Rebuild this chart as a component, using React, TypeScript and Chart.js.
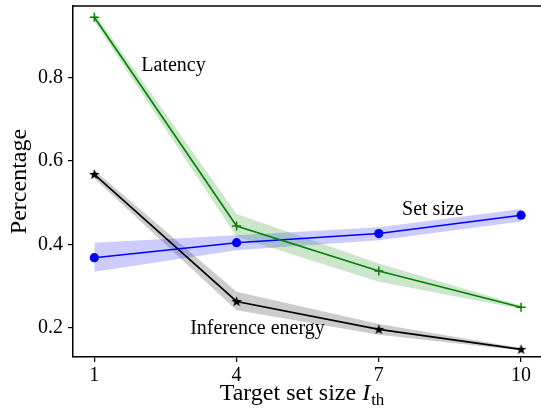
import React, { useEffect, useRef } from "react";
import { Chart, registerables } from "chart.js";

Chart.register(...registerables);

const xValues = [1, 4, 7, 10];
const yTicks = [0.2, 0.4, 0.6, 0.8];

const latency = [0.945, 0.444, 0.336, 0.249];
const latencyLow = [0.935, 0.418, 0.31, 0.245];
const latencyHigh = [0.955, 0.473, 0.354, 0.253];

const setSize = [0.368, 0.404, 0.426, 0.47];
const setSizeLow = [0.334, 0.386, 0.41, 0.455];
const setSizeHigh = [0.404, 0.422, 0.441, 0.485];

const energy = [0.568, 0.263, 0.196, 0.148];
const energyLow = [0.558, 0.242, 0.183, 0.145];
const energyHigh = [0.578, 0.286, 0.209, 0.151];

const labelTexts = ["Latency", "Set size", "Inference energy"];
const labelX = [2.67, 8.14, 4.44];
const labelY = [0.816, 0.47, 0.185];

const FONT = "'Liberation Serif', 'Times New Roman', serif";

function pts(ys: number[]) {
  return xValues.map((x, i) => ({ x, y: ys[i] }));
}

function makeStar(color: string) {
  const c = document.createElement("canvas");
  c.width = 13;
  c.height = 13;
  const ctx = c.getContext("2d")!;
  ctx.fillStyle = color;
  ctx.beginPath();
  const cx = 6.5, cy = 6.8, R = 5.6, r = 2.3;
  for (let i = 0; i < 10; i++) {
    const a = -Math.PI / 2 + (i * Math.PI) / 5;
    const rr = i % 2 === 0 ? R : r;
    const px = cx + rr * Math.cos(a);
    const py = cy + rr * Math.sin(a);
    if (i === 0) ctx.moveTo(px, py);
    else ctx.lineTo(px, py);
  }
  ctx.closePath();
  ctx.fill();
  return c;
}

function zeroPad(s: any) {
  s.paddingTop = 0;
  s.paddingBottom = 0;
  s.paddingLeft = 0;
  s.paddingRight = 0;
}

const overlayPlugin = {
  id: "overlay",
  afterDraw(chart: any) {
    const { ctx, chartArea, scales } = chart;
    ctx.save();
    // top spine
    ctx.strokeStyle = "#000";
    ctx.lineWidth = 1.5;
    ctx.beginPath();
    ctx.moveTo(chartArea.left - 0.75, chartArea.top);
    ctx.lineTo(chartArea.right, chartArea.top);
    ctx.stroke();
    // annotations
    ctx.fillStyle = "#000";
    ctx.font = `20px ${FONT}`;
    ctx.textAlign = "center";
    ctx.textBaseline = "alphabetic";
    labelTexts.forEach((t, i) => {
      ctx.fillText(t, scales.x.getPixelForValue(labelX[i]), scales.y.getPixelForValue(labelY[i]));
    });
    // x title with italic I and subscript th
    const main = "Target set size ";
    const ital = "I";
    const sub = "th";
    ctx.textAlign = "left";
    ctx.font = `24px ${FONT}`;
    const w1 = ctx.measureText(main).width;
    ctx.font = `italic 24px ${FONT}`;
    const w2 = ctx.measureText(ital).width;
    ctx.font = `17px ${FONT}`;
    const w3 = ctx.measureText(sub).width;
    const total = w1 + w2 + 1 + w3;
    const cx = 302;
    let x = cx - total / 2;
    const base = 400;
    ctx.font = `24px ${FONT}`;
    ctx.fillText(main, x, base);
    x += w1;
    ctx.font = `italic 24px ${FONT}`;
    ctx.fillText(ital, x, base);
    x += w2 + 1;
    ctx.font = `17px ${FONT}`;
    ctx.fillText(sub, x, base + 5);
    ctx.restore();
  },
};

export default function App() {
  const ref = useRef<HTMLCanvasElement | null>(null);
  useEffect(() => {
    if (!ref.current) return;
    Chart.defaults.font.family = FONT;
    Chart.defaults.color = "#000";
    const star = makeStar("#000");
    const band = (data: number[], color: string, fillTarget: number | boolean) => ({
      data: pts(data),
      borderWidth: 0,
      pointRadius: 0,
      backgroundColor: color,
      borderColor: "rgba(0,0,0,0)",
      fill: fillTarget,
      tension: 0,
    });
    const chart = new Chart(ref.current, {
      type: "line",
      data: {
        datasets: [
          {
            label: "Latency",
            data: pts(latency),
            borderColor: "#008000",
            borderWidth: 1.6,
            pointStyle: "cross",
            pointRadius: 4.5,
            pointBorderWidth: 1.5,
            pointBorderColor: "#008000",
            pointBackgroundColor: "#008000",
            fill: false,
          },
          {
            label: "Set size",
            data: pts(setSize),
            borderColor: "#0000ff",
            borderWidth: 1.6,
            pointStyle: "circle",
            pointRadius: 4.6,
            pointBorderWidth: 0,
            pointBackgroundColor: "#0000ff",
            fill: false,
          },
          {
            label: "Inference energy",
            data: pts(energy),
            borderColor: "#000000",
            borderWidth: 1.6,
            pointStyle: star as any,
            pointRadius: 6,
            fill: false,
          },
          band(latencyHigh, "rgba(0,128,0,0.2)", false),
          band(latencyLow, "rgba(0,128,0,0.2)", 3),
          band(setSizeHigh, "rgba(0,0,255,0.2)", false),
          band(setSizeLow, "rgba(0,0,255,0.2)", 5),
          band(energyHigh, "rgba(0,0,0,0.2)", false),
          band(energyLow, "rgba(0,0,0,0.2)", 7),
        ] as any,
      },
      options: {
        animation: false,
        responsive: false,
        maintainAspectRatio: false,
        layout: { autoPadding: false, padding: { top: 6, left: 0, right: 0, bottom: 0 } },
        plugins: {
          legend: { display: false },
          tooltip: { enabled: false },
        },
        scales: {
          x: {
            type: "linear",
            min: 0.55,
            max: 10.42,
            afterBuildTicks: (s: any) => {
              s.ticks = xValues.map((v) => ({ value: v }));
            },
            afterFit: (s: any) => {
              s.height = 55;
              zeroPad(s);
            },
            ticks: {
              font: { size: 20 },
              color: "#000",
              padding: 2,
              callback: (v: any) => String(v),
              maxRotation: 0,
            },
            grid: {
              display: true,
              drawOnChartArea: false,
              drawTicks: true,
              tickLength: 5,
              color: "#000",
              lineWidth: 1.2,
            },
            border: { display: true, color: "#000", width: 1.5 },
          },
          y: {
            type: "linear",
            min: 0.1297,
            max: 0.972,
            afterBuildTicks: (s: any) => {
              s.ticks = yTicks.map((v) => ({ value: v }));
            },
            afterFit: (s: any) => {
              s.width = 73;
              zeroPad(s);
            },
            ticks: {
              font: { size: 20 },
              color: "#000",
              padding: 5,
              callback: (v: any) => Number(v).toFixed(1),
            },
            grid: {
              display: true,
              drawOnChartArea: false,
              drawTicks: true,
              tickLength: 5,
              color: "#000",
              lineWidth: 1.2,
            },
            border: { display: true, color: "#000", width: 1.5 },
            title: {
              display: true,
              text: "Percentage",
              font: { size: 24 },
              color: "#000",
              padding: { top: 5, bottom: 0 },
            },
          },
        },
      },
      plugins: [overlayPlugin],
    });
    return () => chart.destroy();
  }, []);
  return (
    <div style={{ position: "fixed", left: 0, top: 0, width: 541, height: 412, background: "#fff" }}>
      <canvas ref={ref} width={541} height={412} style={{ width: 541, height: 412, display: "block" }} />
    </div>
  );
}
